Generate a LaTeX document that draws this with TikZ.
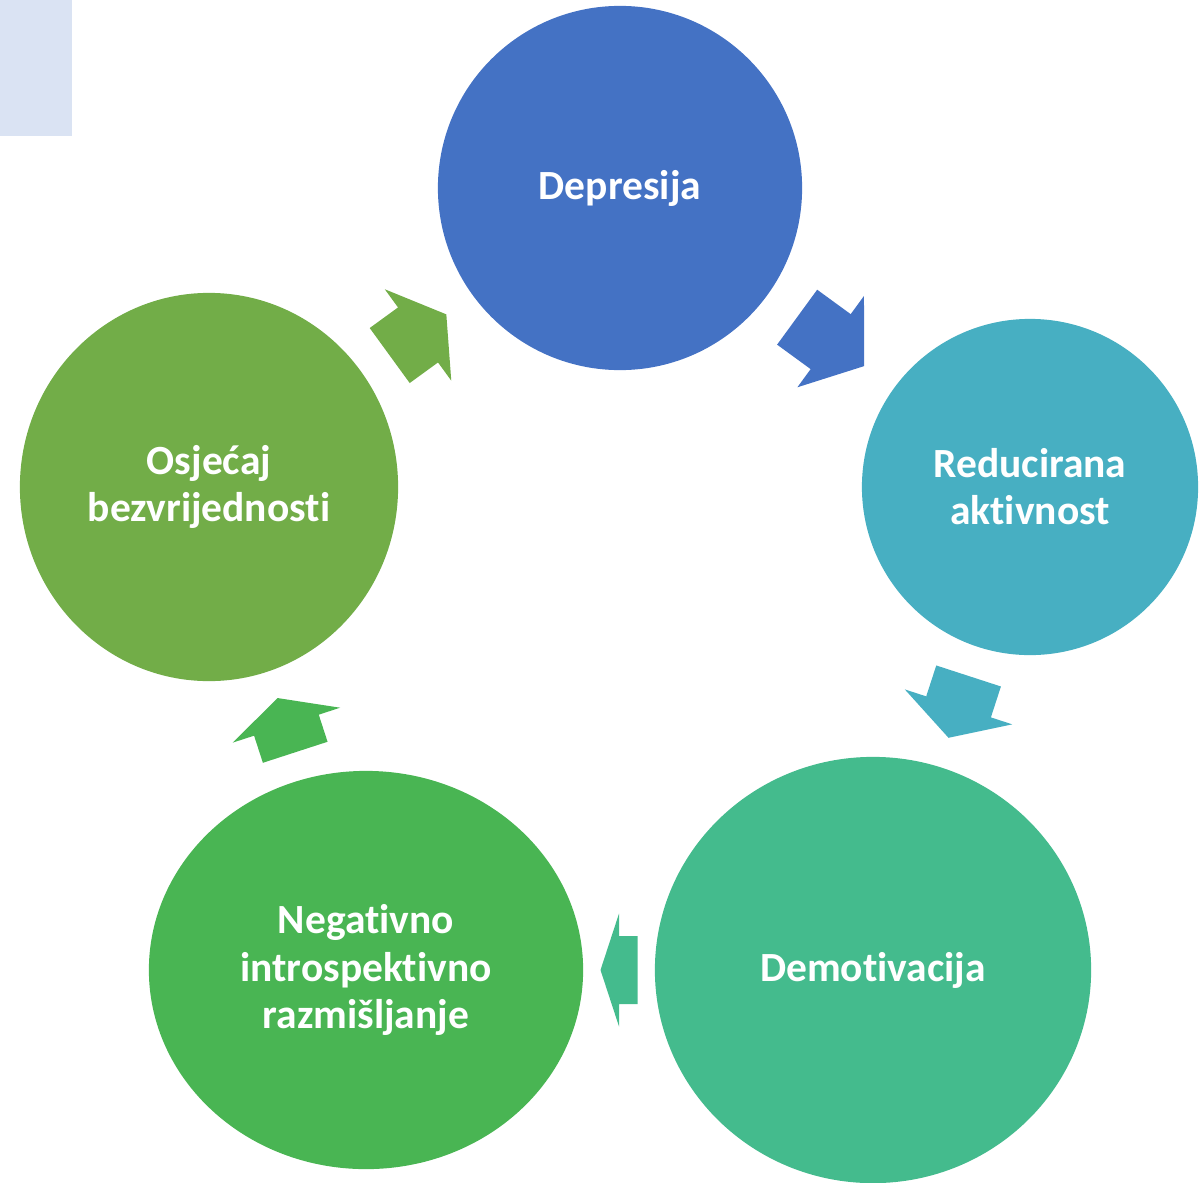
\documentclass[tikz,border=0pt]{standalone}
\usepackage{fontspec}
\setmainfont{Carlito}[Ligatures=NoCommon]
\usetikzlibrary{shapes.geometric}

\definecolor{depblue}{HTML}{4472C4}
\definecolor{redteal}{HTML}{47AFC2}
\definecolor{demgreen}{HTML}{44BB8D}
\definecolor{neggreen}{HTML}{49B553}
\definecolor{osjolive}{HTML}{72AD48}
\definecolor{tabblue}{HTML}{DAE3F3}

\begin{document}
\begin{tikzpicture}[x=0.01cm, y=-0.01cm,
  phase/.style={ellipse, inner sep=0pt, outer sep=0pt, text=white, align=center,
    font=\fontsize{11.8}{13.4}\selectfont\bfseries},
  pics/cyc arrow/.style={code={
    \path[pic actions] ({-#1/2},-34) -- (0,-34) -- (0,-56.5) -- ({#1/2},0)
      -- (0,56.5) -- (0,34) -- ({-#1/2},34) -- cycle;}},
  gap/.style={pos=0.5, sloped, allow upside down}]

\useasboundingbox (0,0) rectangle (1201,1182);
\fill[tabblue] (0,0) rectangle (72,136);

\node[phase, fill=depblue, minimum width=3.64cm, minimum height=3.64cm]
  (depresija) at (620,188) {Depresija};
\node[phase, fill=redteal, minimum width=3.36cm, minimum height=3.36cm]
  (red-akt) at (1030,487) {Reducirana\\aktivnost};
\node[phase, fill=demgreen, minimum width=4.36cm, minimum height=4.26cm]
  (demot) at (873,970) {Demotivacija};
\node[phase, fill=neggreen, minimum width=4.34cm, minimum height=3.98cm]
  (neg-raz) at (366,970) {Negativno\\introspektivno\\razmišljanje};
\node[phase, fill=osjolive, minimum width=3.78cm, minimum height=3.88cm]
  (osj-bez) at (209,487) {Osjećaj\\bezvrijednosti};

\path (depresija) -- pic[gap, fill=depblue]{cyc arrow=83} (red-akt);
\path (red-akt) -- pic[gap, fill=redteal]{cyc arrow=65} (demot);
\path (demot) -- pic[gap, fill=demgreen]{cyc arrow=37} (neg-raz);
\path (neg-raz) -- pic[gap, fill=neggreen]{cyc arrow=57} (osj-bez);
\path (osj-bez) -- pic[gap, fill=osjolive]{cyc arrow=70} (depresija);

\end{tikzpicture}
\end{document}
